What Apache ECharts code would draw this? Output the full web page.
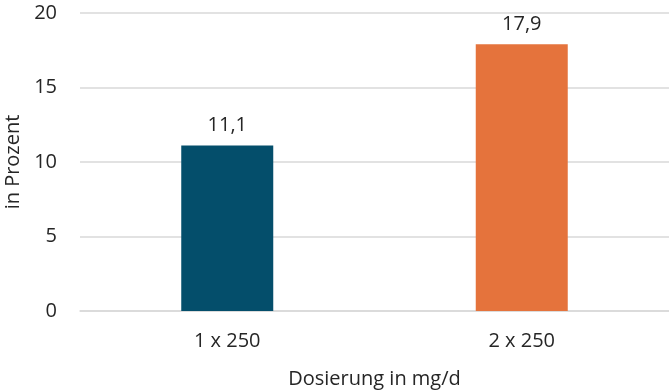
<!DOCTYPE html>
<html><head><meta charset="utf-8">
<script src="https://cdn.jsdelivr.net/npm/echarts@6/dist/echarts.min.js"></script>
<style>html,body{margin:0;padding:0;background:#fff}#c{width:669px;height:391px}</style>
</head><body><div id="c"></div>
<script>
const categories = ['1 x 250', '2 x 250'];
const values = [11.1, 17.9];
const barColors = ['#044e6b', '#e5733c'];
const yTicks = [0, 5, 10, 15, 20];

const chart = echarts.init(document.getElementById('c'));
const font = '"Open Sans", sans-serif';
const txt = '#262626';
chart.setOption({
  animation: false,
  grid: { left: 80, right: 0, top: 13, bottom: 80, containLabel: false, outerBoundsMode: 'none' },
  xAxis: {
    type: 'category', data: categories,
    name: 'Dosierung in mg/d', nameLocation: 'middle', nameGap: 58,
    nameTextStyle: { color: txt, fontSize: 20, fontFamily: font },
    axisLine: { show: true, lineStyle: { color: '#d9d9d9', width: 1.5 } },
    axisTick: { show: false },
    axisLabel: { color: txt, fontSize: 20, fontFamily: font, margin: 20 }
  },
  yAxis: {
    type: 'value', min: 0, max: 20, interval: 5,
    name: 'in Prozent', nameLocation: 'middle', nameGap: 54,
    nameTextStyle: { color: txt, fontSize: 20, fontFamily: font },
    axisLine: { show: false }, axisTick: { show: false },
    splitLine: { lineStyle: { color: '#d9d9d9', width: 1.5 } },
    axisLabel: { color: txt, fontSize: 20, fontFamily: font, margin: 23,
      formatter: v => yTicks.includes(v) ? String(v) : '' }
  },
  series: [{
    type: 'bar', barWidth: 92,
    data: values.map((v, i) => ({ value: v, itemStyle: { color: barColors[i] } })),
    label: { show: true, position: 'top', distance: 10, color: txt, fontSize: 20, fontFamily: font,
      formatter: p => String(p.value).replace('.', ',') }
  }]
});
</script></body></html>
